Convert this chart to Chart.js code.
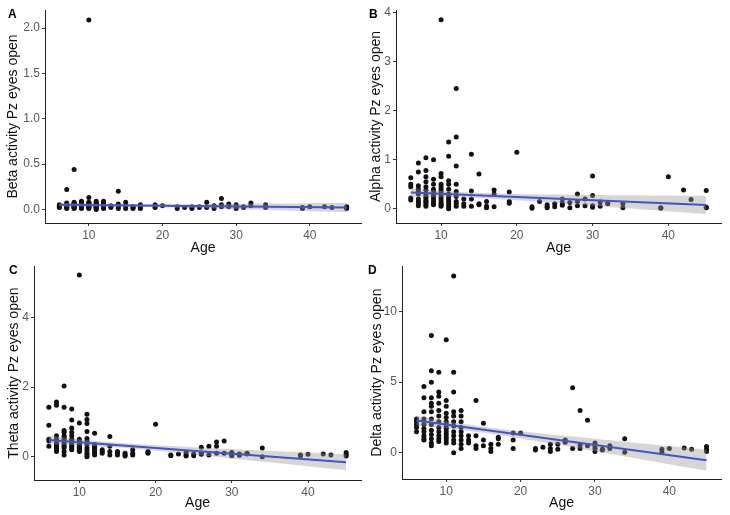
<!DOCTYPE html>
<html>
<head>
<meta charset="utf-8">
<script src="https://cdn.jsdelivr.net/npm/chart.js@4.4.1/dist/chart.umd.min.js"></script>
<style>
  body { margin: 0; background: #fff; }
  #wrap { position: relative; width: 730px; height: 515px; overflow: hidden; }
  .panel { position: absolute; }
  .tag { position: absolute; font: bold 12px "Liberation Sans", Arial, sans-serif; color: #000; }
</style>
</head>
<body>
<div id="wrap">
  <div class="panel" style="left:0;top:0;width:365px;height:257px"><canvas id="chartA"></canvas></div>
  <div class="panel" style="left:365px;top:0;width:365px;height:257px"><canvas id="chartB"></canvas></div>
  <div class="panel" style="left:0;top:257px;width:365px;height:257px"><canvas id="chartC"></canvas></div>
  <div class="panel" style="left:365px;top:257px;width:365px;height:257px"><canvas id="chartD"></canvas></div>
  <div class="tag" style="left:8px;top:7px">A</div>
  <div class="tag" style="left:369px;top:7px">B</div>
  <div class="tag" style="left:9px;top:263px">C</div>
  <div class="tag" style="left:368px;top:263px">D</div>
</div>
<script>
// subjects: age and EEG power at Pz, eyes open
const ages = [
  6, 6, 6, 6, 6,
  7, 7, 7, 7, 7, 7, 7, 7, 7, 7,
  8, 8, 8, 8, 8, 8, 8, 8, 8, 8, 8, 8, 8, 8,
  9, 9, 9, 9, 9, 9, 9, 9, 9, 9, 9, 9,
  10, 10, 10, 10, 10, 10, 10, 10, 10, 10, 10, 10, 10, 10,
  11, 11, 11, 11, 11, 11, 11, 11, 11, 11, 11, 11,
  12, 12, 12, 12, 12, 12, 12, 12, 12,
  13, 13, 13, 14, 14, 14, 14, 15, 15, 15, 16, 16, 16, 17, 17, 17,
  19, 19, 19, 20, 22, 22, 23, 24, 24, 24, 25, 25, 26, 26, 26, 27, 27,
  28, 28, 28, 29, 29, 30, 30, 30, 30, 31, 31, 32, 32, 34, 34,
  39, 39, 40, 42, 43, 45, 45, 45
];

const beta = [
  0.03, 0.05, 0.02, 0.04, 0.03,
  0.22, 0.06, 0.04, 0.03, 0.02, 0.05, 0.01, 0.07, 0.03, 0.04,
  0.44, 0.08, 0.06, 0.05, 0.04, 0.03, 0.02, 0.01, 0.07, 0.05, 0.03, 0.02, 0.04, 0.06,
  0.09, 0.07, 0.05, 0.04, 0.03, 0.02, 0.06, 0.01, 0.05, 0.03, 0.08, 0.02,
  2.09, 0.13, 0.08, 0.07, 0.06, 0.05, 0.04, 0.03, 0.02, 0.01, 0.05, 0.03, 0.07, 0.04,
  0.09, 0.07, 0.06, 0.05, 0.04, 0.03, 0.02, 0.01, 0.00, 0.05, 0.03, 0.02,
  0.09, 0.07, 0.05, 0.04, 0.03, 0.02, 0.01, 0.06, 0.03,
  0.04, 0.02, 0.03, 0.20, 0.06, 0.03, 0.01, 0.08, 0.04, 0.01, 0.02, 0.01, 0.03, 0.05, 0.02, 0.01,
  0.05, 0.03, 0.02, 0.04, 0.01, 0.03, 0.02, 0.03, 0.01, 0.02, 0.02, 0.03, 0.08, 0.03, 0.02, 0.04, 0.01,
  0.12, 0.05, 0.03, 0.06, 0.03, 0.05, 0.03, 0.01, 0.02, 0.02, 0.03, 0.07, 0.04, 0.05, 0.02,
  0.01, 0.02, 0.03, 0.03, 0.02, 0.02, 0.03, 0.01
];

const alpha = [
  0.63, 0.50, 0.45, 0.22, 0.18,
  0.93, 0.75, 0.47, 0.40, 0.30, 0.20, 0.15, 0.10, 0.06, 0.35,
  1.04, 0.78, 0.65, 0.55, 0.45, 0.38, 0.30, 0.22, 0.17, 0.12, 0.08, 0.05, 0.25, 0.15,
  1.00, 0.60, 0.50, 0.40, 0.35, 0.30, 0.20, 0.15, 0.10, 0.08, 0.25, 0.12,
  3.85, 0.72, 0.65, 0.50, 0.45, 0.40, 0.30, 0.25, 0.20, 0.15, 0.10, 0.08, 0.05, 0.35,
  1.36, 1.07, 0.57, 0.50, 0.40, 0.30, 0.20, 0.15, 0.10, 0.05, 0.00, 0.25,
  2.45, 1.46, 0.87, 0.50, 0.35, 0.25, 0.15, 0.10, 0.05,
  0.20, 0.10, 0.05, 1.11, 0.36, 0.20, 0.05, 0.71, 0.10, 0.08, 0.15, 0.05, 0.02, 0.38, 0.30, 0.04,
  0.34, 0.15, 0.11, 1.15, 0.04, 0.01, 0.15, 0.08, 0.04, 0.02, 0.10, 0.04, 0.20, 0.07, 0.12, 0.13, 0.02,
  0.30, 0.15, 0.06, 0.20, 0.06, 0.67, 0.27, 0.06, 0.03, 0.14, 0.05, 0.12, 0.10, 0.10, 0.02,
  0.02, 0.01, 0.65, 0.38, 0.19, 0.37, 0.02, 0.03
];

const theta = [
  1.42, 0.90, 0.50, 0.45, 0.30,
  1.57, 1.48, 0.60, 0.50, 0.40, 0.35, 0.30, 0.25, 0.20, 0.15,
  2.03, 1.42, 0.75, 0.70, 0.60, 0.55, 0.50, 0.45, 0.40, 0.35, 0.30, 0.25, 0.15, 0.05,
  1.37, 1.05, 0.82, 0.70, 0.60, 0.50, 0.45, 0.40, 0.35, 0.30, 0.25, 0.20,
  5.22, 0.97, 0.50, 0.45, 0.40, 0.35, 0.30, 0.25, 0.20, 0.15, 0.35, 0.28, 0.22, 0.18,
  1.22, 1.07, 0.95, 0.72, 0.52, 0.45, 0.35, 0.25, 0.18, 0.10, 0.05, 0.00,
  0.67, 0.35, 0.28, 0.22, 0.15, 0.10, 0.05, 0.30, 0.20,
  0.20, 0.15, 0.10, 0.58, 0.30, 0.15, 0.05, 0.15, 0.10, 0.05, 0.10, 0.05, 0.02, 0.20, 0.10, 0.05,
  0.15, 0.10, 0.12, 0.93, 0.05, 0.03, 0.08, 0.12, 0.05, 0.02, 0.08, 0.03, 0.27, 0.10, 0.07, 0.30, 0.05,
  0.42, 0.30, 0.10, 0.45, 0.10, 0.12, 0.06, 0.03, 0.08, 0.08, 0.04, 0.10, 0.08, 0.25, 0.00,
  0.05, 0.03, 0.07, 0.08, 0.05, 0.12, 0.06, 0.02
];

const delta = [
  2.4, 2.2, 2.0, 1.8, 1.5,
  4.7, 3.9, 2.9, 2.4, 2.0, 1.7, 1.5, 1.2, 1.0, 0.9,
  8.3, 5.8, 5.0, 3.9, 3.5, 3.3, 2.9, 2.4, 2.0, 1.6, 1.3, 1.0, 0.7, 0.5,
  5.7, 4.3, 4.0, 3.5, 3.0, 2.6, 2.2, 1.8, 1.5, 1.2, 1.0, 0.8,
  8.0, 3.7, 3.3, 2.8, 2.5, 2.2, 2.0, 1.8, 1.5, 1.3, 1.1, 0.9, 0.7, 1.7,
  12.5, 5.7, 4.3, 2.9, 2.6, 2.2, 1.9, 1.5, 1.2, 0.9, 0.7, 0.0,
  3.0, 2.6, 2.2, 1.8, 1.5, 1.2, 0.9, 0.6, 0.3,
  1.2, 0.9, 0.7, 3.7, 1.2, 0.5, 0.3, 2.1, 0.9, 0.5, 0.6, 0.3, 0.1, 1.1, 1.0, 0.6,
  1.4, 0.9, 0.3, 1.4, 0.3, 0.2, 0.4, 0.6, 0.3, 0.1, 0.6, 0.25, 0.9, 0.8, 0.75, 4.6, 0.3,
  3.0, 0.55, 0.3, 2.3, 0.5, 0.7, 0.5, 0.3, 0.1, 0.25, 0.2, 0.5, 0.3, 1.0, 0.05,
  0.25, 0.05, 0.3, 0.35, 0.25, 0.45, 0.25, 0.1
];

// linear fit and 95% band
const fitAges = [6, 45];
const fitBeta = [0.05, 0.02];
const fitAlpha = [0.33, 0.075];
const fitTheta = [0.48, -0.16];
const fitDelta = [2.28, -0.52];

const bandAges = [6, 10, 15, 20, 25, 30, 35, 40, 45];
const bandBetaHi = [0.07, 0.062, 0.057, 0.056, 0.057, 0.062, 0.065, 0.069, 0.073];
const bandBetaLo = [0.03, 0.032, 0.029, 0.022, 0.013, 0.002, -0.009, -0.021, -0.033];
const bandAlphaHi = [0.42, 0.369, 0.326, 0.303, 0.291, 0.283, 0.275, 0.268, 0.26];
const bandAlphaLo = [0.24, 0.239, 0.216, 0.173, 0.121, 0.063, 0.005, -0.052, -0.11];
const bandThetaHi = [0.60, 0.499, 0.402, 0.33, 0.273, 0.221, 0.168, 0.117, 0.065];
const bandThetaLo = [0.36, 0.329, 0.262, 0.17, 0.063, -0.049, -0.162, -0.273, -0.385];
const bandDeltaHi = [2.63, 2.243, 1.854, 1.535, 1.256, 0.997, 0.738, 0.479, 0.22];
const bandDeltaLo = [1.93, 1.743, 1.414, 1.015, 0.576, 0.117, -0.342, -0.801, -1.26];

// tick labels
const ageTicks = [10, 20, 30, 40];
const betaTicks = [0, 0.5, 1, 1.5, 2];
const alphaTicks = [0, 1, 2, 3, 4];
const thetaTicks = [0, 2, 4];
const deltaTicks = [0, 5, 10];

const FONT = '"Liberation Sans", Arial, sans-serif';

function pairs(xs, ys) {
    return xs.map((x, i) => ({ x: x, y: ys[i] }));
}

function makePanel(id, o) {
    const ctx = document.getElementById(id);
    return new Chart(ctx, {
        type: 'scatter',
        data: {
            datasets: [
                {
                    type: 'line',
                    data: pairs(fitAges, o.fit),
                    borderColor: '#3f55c8',
                    borderWidth: 2,
                    pointRadius: 0,
                    fill: false
                },
                {
                    type: 'line',
                    data: pairs(bandAges, o.hi),
                    borderWidth: 0,
                    pointRadius: 0,
                    tension: 0.3,
                    backgroundColor: 'rgba(153,153,153,0.4)',
                    fill: '+1'
                },
                {
                    type: 'line',
                    data: pairs(bandAges, o.lo),
                    borderWidth: 0,
                    pointRadius: 0,
                    tension: 0.3,
                    fill: false
                },
                {
                    data: pairs(ages, o.values),
                    backgroundColor: '#111',
                    borderWidth: 0,
                    pointRadius: 2.5
                }
            ]
        },
        options: {
            responsive: true,
            maintainAspectRatio: false,
            animation: false,
            events: [],
            layout: { padding: { top: o.padTop, right: o.padRight, left: 0, bottom: 0 } },
            plugins: { legend: { display: false }, tooltip: { enabled: false } },
            scales: {
                x: {
                    type: 'linear',
                    min: 4.05,
                    max: 46.95,
                    afterBuildTicks: s => { s.ticks = ageTicks.map(v => ({ value: v })); },
                    afterFit: s => { s.height = o.xHeight; },
                    grid: { drawOnChartArea: false, color: '#333', tickLength: 3 },
                    border: { color: '#222', width: 1 },
                    ticks: { color: '#595959', font: { family: FONT, size: 12 }, padding: 2 },
                    title: { display: true, text: 'Age', color: '#111', font: { family: FONT, size: 14 }, padding: { top: 0, bottom: o.ageGap } }
                },
                y: {
                    min: o.yMin,
                    max: o.yMax,
                    afterBuildTicks: s => { s.ticks = o.ticks.map(v => ({ value: v })); },
                    afterFit: s => { s.width = o.yWidth; },
                    grid: { drawOnChartArea: false, color: '#333', tickLength: 3 },
                    border: { color: '#222', width: 1 },
                    ticks: {
                        color: '#595959',
                        font: { family: FONT, size: 12 },
                        padding: 2,
                        callback: v => o.digits ? v.toFixed(o.digits) : String(v)
                    },
                    title: { display: true, text: o.title, color: '#111', font: { family: FONT, size: 14 }, padding: { top: o.titleGap, bottom: 0 } }
                }
            }
        }
    });
}

makePanel('chartA', {
    values: beta, fit: fitBeta, hi: bandBetaHi, lo: bandBetaLo, ticks: betaTicks, digits: 1,
    title: 'Beta activity Pz eyes open', yMin: -0.15, yMax: 2.2,
    padTop: 10, padRight: 4, yWidth: 45, xHeight: 34, titleGap: 5, ageGap: 0
});
makePanel('chartB', {
    values: alpha, fit: fitAlpha, hi: bandAlphaHi, lo: bandAlphaLo, ticks: alphaTicks, digits: 0,
    title: 'Alpha activity Pz eyes open', yMin: -0.29, yMax: 4.05,
    padTop: 10, padRight: 9, yWidth: 31, xHeight: 34, titleGap: 3, ageGap: 0
});
makePanel('chartC', {
    values: theta, fit: fitTheta, hi: bandThetaHi, lo: bandThetaLo, ticks: thetaTicks, digits: 0,
    title: 'Theta activity Pz eyes open', yMin: -0.67, yMax: 5.47,
    padTop: 9, padRight: 4, yWidth: 34, xHeight: 34, titleGap: 6, ageGap: 2
});
makePanel('chartD', {
    values: delta, fit: fitDelta, hi: bandDeltaHi, lo: bandDeltaLo, ticks: deltaTicks, digits: 0,
    title: 'Delta activity Pz eyes open', yMin: -1.85, yMax: 13.2,
    padTop: 8, padRight: 9, yWidth: 37, xHeight: 35, titleGap: 4, ageGap: 2
});
</script>
</body>
</html>
